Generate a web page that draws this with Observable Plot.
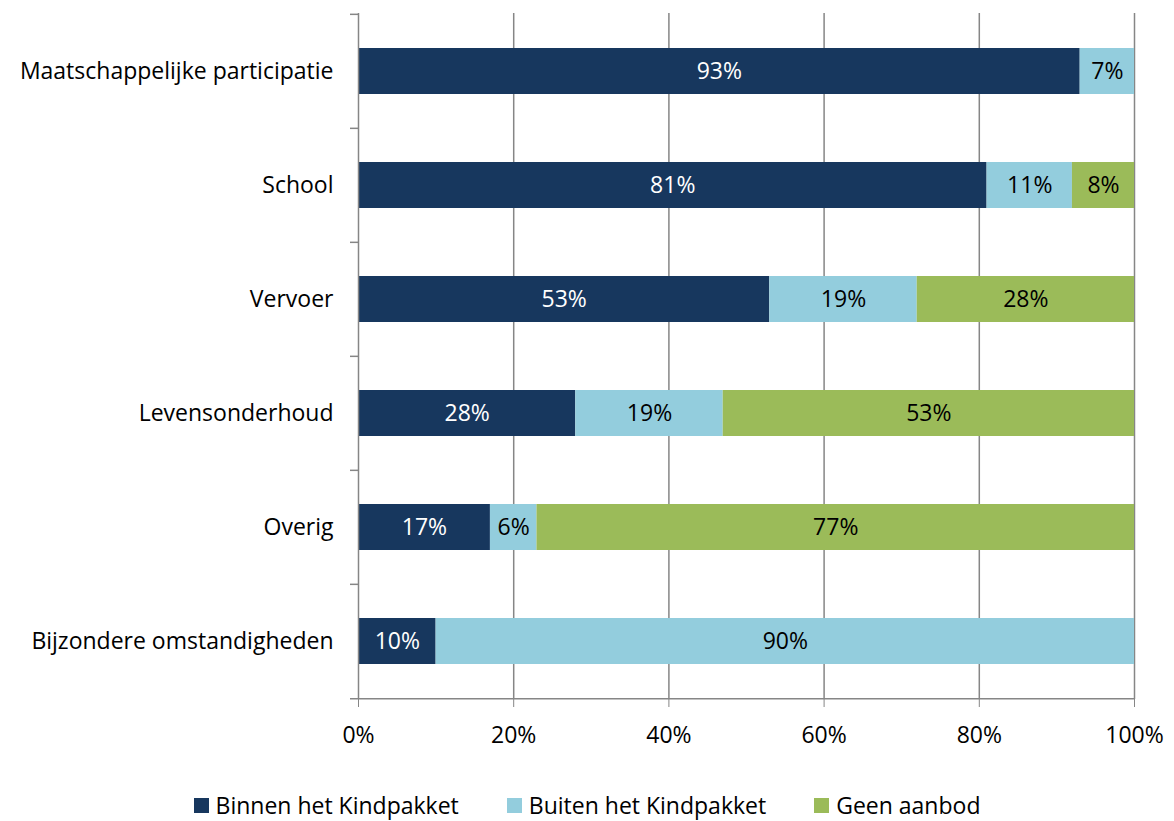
<!DOCTYPE html>
<html>
<head>
<meta charset="utf-8">
<script src="https://cdn.jsdelivr.net/npm/d3@7"></script>
<script src="https://cdn.jsdelivr.net/npm/@observablehq/plot@0.6"></script>
<style>
  html, body { margin: 0; padding: 0; background: #fff; }
  #chart { width: 1174px; height: 760px; }
  .legend { position: absolute; left: 0; top: 789px; width: 1174px; display: flex; justify-content: center; gap: 48px; font-family: "Open Sans", sans-serif; font-size: 23px; line-height: 32px; color: #000; }
  .legend span.item { display: flex; align-items: center; gap: 7px; }
  .legend span.sw { width: 15px; height: 15px; display: inline-block; }
</style>
</head>
<body>
<div id="chart"></div>
<script>
const categories = ["Maatschappelijke participatie", "School", "Vervoer", "Levensonderhoud", "Overig", "Bijzondere omstandigheden"];
const seriesNames = ["Binnen het Kindpakket", "Buiten het Kindpakket", "Geen aanbod"];
const binnen = [93, 81, 53, 28, 17, 10];
const buiten = [7, 11, 19, 19, 6, 90];
const geen = [0, 8, 28, 53, 77, 0];
const colors = ["#17375E", "#93CDDD", "#9BBB59"];
const xTicks = [0, 0.2, 0.4, 0.6, 0.8, 1];

const seriesValues = [binnen, buiten, geen];
const data = [];
categories.forEach((c, i) => {
  seriesNames.forEach((s, j) => {
    data.push({category: c, series: s, value: seriesValues[j][i] / 100});
  });
});

const fontFamily = '"Open Sans", sans-serif';
const W = 1174, H = 760;
const mt = 13, mb = 61;
const step = (H - mt - mb) / categories.length;
const pxPerUnit = (1174 - 358 - 40);
const tickLen = 8 / pxPerUnit;
const FS = 23;

const chart = Plot.plot({
  width: W,
  height: H,
  marginLeft: 358,
  marginRight: 40,
  marginTop: mt,
  marginBottom: mb,
  style: {fontFamily, fontSize: FS + "px", color: "#000", background: "#fff", overflow: "visible"},
  x: {domain: [0, 1], label: null},
  y: {domain: categories, paddingInner: 0.6, paddingOuter: 0.3, label: null},
  color: {domain: seriesNames, range: colors},
  marks: [
    Plot.ruleX(xTicks.slice(1), {stroke: "#868686", strokeWidth: 1.5}),
    Plot.barX(data, Plot.stackX({x: "value", y: "category", fill: "series", order: seriesNames})),
    Plot.text(data, Plot.stackX({x: "value", y: "category", z: "series", order: seriesNames,
      text: d => d.series === seriesNames[0] && d.value > 0 ? Math.round(d.value * 100) + "%" : null,
      fill: "white", fontSize: FS})),
    Plot.text(data, Plot.stackX({x: "value", y: "category", z: "series", order: seriesNames,
      text: d => d.series !== seriesNames[0] && d.value > 0 ? Math.round(d.value * 100) + "%" : null,
      fill: "black", fontSize: FS})),
    Plot.ruleX([0], {stroke: "#868686", strokeWidth: 1.5}),
    Plot.ruleY(categories, {y: d => d, dy: -step / 2, x1: -tickLen, x2: 0, stroke: "#868686", strokeWidth: 1.5}),
    Plot.ruleY(categories.slice(-1), {y: d => d, dy: step / 2, x1: -tickLen, x2: 1, stroke: "#868686", strokeWidth: 1.5}),
    Plot.axisY({tickSize: 0, tickPadding: 25, fontSize: FS, fill: "#000", label: null}),
    Plot.axisX({ticks: xTicks, tickFormat: d3.format(".0%"), tickSize: 8, tickPadding: 19, stroke: "#868686", fill: "#000", fontSize: FS, label: null})
  ]
});
document.getElementById("chart").appendChild(chart);

const legend = document.createElement("div");
legend.className = "legend";
seriesNames.forEach((s, i) => {
  const item = document.createElement("span");
  item.className = "item";
  const sw = document.createElement("span");
  sw.className = "sw";
  sw.style.background = colors[i];
  const t = document.createElement("span");
  t.textContent = s;
  item.appendChild(sw);
  item.appendChild(t);
  legend.appendChild(item);
});
document.body.appendChild(legend);
</script>
</body>
</html>
